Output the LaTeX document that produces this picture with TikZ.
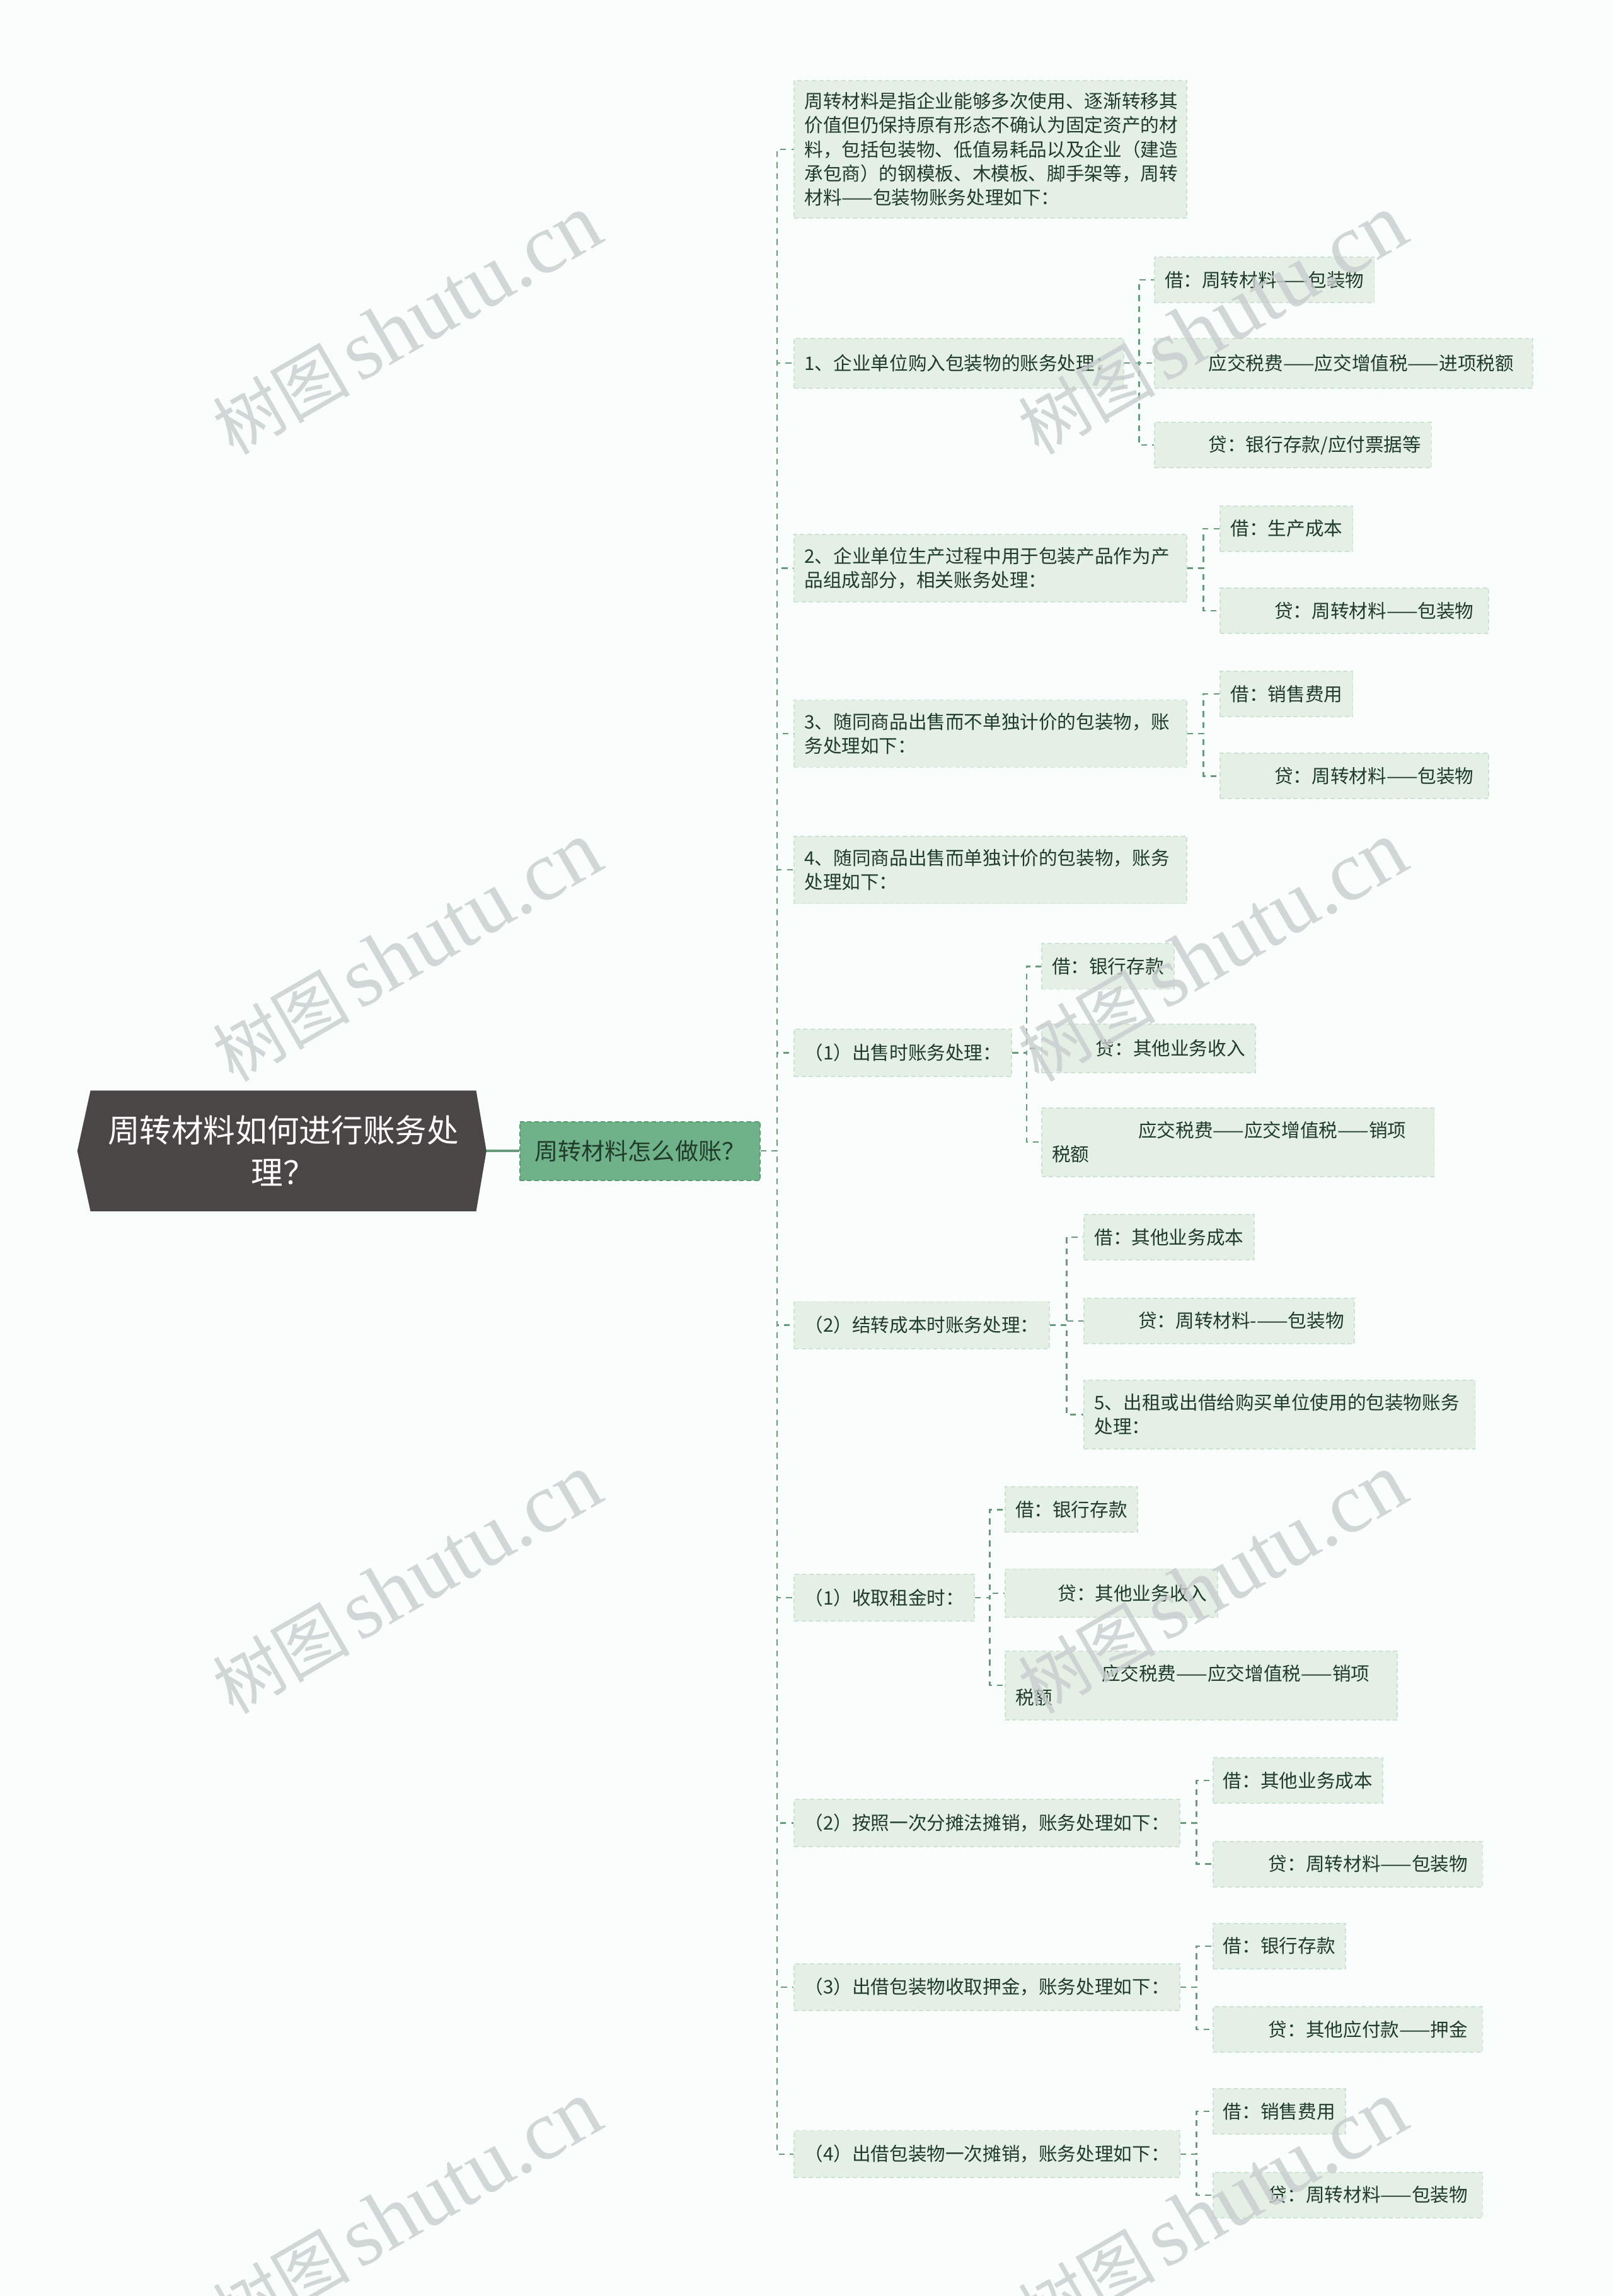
\documentclass[tikz,border=0pt]{standalone}
\usepackage{fontspec}
\setmainfont{Noto Sans CJK SC}
\newfontfamily\wmserif{Liberation Serif}
\usetikzlibrary{calc,backgrounds}
\definecolor{bgc}{RGB}{249,253,252}
\definecolor{boxfill}{RGB}{228,239,230}
\definecolor{boxline}{RGB}{206,225,211}
\definecolor{linec}{RGB}{106,154,124}
\definecolor{txt}{RGB}{33,59,43}
\definecolor{rootc}{RGB}{75,70,70}
\definecolor{mainc}{RGB}{111,178,138}
\definecolor{mainline}{RGB}{92,152,114}
\definecolor{wm}{RGB}{200,205,205}
\tikzset{
  leaf/.style={anchor=west, fill=boxfill, draw=boxline, dash pattern=on 3pt off 2pt,
    line width=0.8pt, inner xsep=7pt, inner ysep=0pt, minimum height=31pt, text=txt,
    font=\fontsize{12.75}{16.5}\selectfont, align=left},
  wide/.style={leaf, text width=#1},
  conn/.style={draw=linec, line width=1pt, dash pattern=on 4pt off 3.5pt},
  wmark/.style={rotate=30, text=wm, opacity=0.8, inner sep=0pt, font=\fontsize{47}{47}\selectfont}
}
\newcommand\joinnodes[2]{\draw[conn] (#1.east) -| ($(#1.east)!.5!(#2.west)$) |- (#2.west);}
\begin{document}
\begin{tikzpicture}[x=1pt,y=-1pt]
\useasboundingbox (0,0) rectangle (1102,1568);
% root and main
\node[font=\fontsize{21.8}{29}\selectfont, text=white, align=center, minimum width=263pt,
  minimum height=82pt, inner sep=0pt] (root) at (193.5,786) {周转材料如何进行账务处\\理？};
\node[fill=mainc, draw=mainline, dash pattern=on 3pt off 2pt, line width=0.8pt, minimum width=164pt,
  minimum height=40pt, inner sep=0pt, font=\fontsize{16}{18}\selectfont, text=txt] (main) at (437,786) {周转材料怎么做账？};
\begin{scope}[on background layer]
  \fill[bgc] (0,0) rectangle (1102,1568);
  \draw[linec, line width=1.5pt] (root.east) -- (main.west);
  \fill[rootc] (root.north west) -- (root.north east) -- ([xshift=7pt]root.east) -- (root.south east)
     -- (root.south west) -- ([xshift=-9pt]root.west) -- cycle;
\end{scope}

% level 2
\node[wide=254pt, minimum height=94pt] (intro) at (542,102) {周转材料是指企业能够多次使用、逐渐转移其\\价值但仍保持原有形态不确认为固定资产的材\\料，包括包装物、低值易耗品以及企业（建造\\承包商）的钢模板、木模板、脚手架等，周转\\材料——包装物账务处理如下：};
\node[leaf, minimum height=34pt] (n1) at (542,248) {1、企业单位购入包装物的账务处理：};
\node[wide=254pt, minimum height=46pt] (n2) at (542,388) {2、企业单位生产过程中用于包装产品作为产\\品组成部分，相关账务处理：};
\node[wide=254pt, minimum height=46pt] (n3) at (542,501) {3、随同商品出售而不单独计价的包装物，账\\务处理如下：};
\node[wide=254pt, minimum height=46pt] (n4) at (542,594) {4、随同商品出售而单独计价的包装物，账务\\处理如下：};
\node[leaf, minimum height=32pt] (n5) at (542,719) {（1）出售时账务处理：};
\node[leaf, minimum height=32pt] (n6) at (542,905) {（2）结转成本时账务处理：};
\node[leaf, minimum height=32pt] (n7) at (542,1091) {（1）收取租金时：};
\node[leaf, minimum height=32pt] (n8) at (542,1245) {（2）按照一次分摊法摊销，账务处理如下：};
\node[leaf, minimum height=32pt] (n9) at (542,1357) {（3）出借包装物收取押金，账务处理如下：};
\node[leaf, minimum height=32pt] (n10) at (542,1471) {（4）出借包装物一次摊销，账务处理如下：};

% leaves
\node[leaf] (n1a) at (788,191) {借：周转材料——包装物};
\node[leaf, minimum height=34pt] (n1b) at (788,248) {\hspace*{30pt}应交税费——应交增值税——进项税额\hspace*{6pt}};
\node[leaf] (n1c) at (788,304) {\hspace*{30pt}贷：银行存款/应付票据等};
\node[leaf] (n2a) at (833,361) {借：生产成本};
\node[leaf] (n2b) at (833,417) {\hspace*{30pt}贷：周转材料——包装物\hspace*{3pt}};
\node[leaf] (n3a) at (833,474) {借：销售费用};
\node[leaf] (n3b) at (833,530) {\hspace*{30pt}贷：周转材料——包装物\hspace*{3pt}};
\node[leaf] (n5a) at (711,660) {借：银行存款};
\node[leaf, minimum height=33pt] (n5b) at (711,716) {\hspace*{30pt}贷：其他业务收入};
\node[wide=254pt, minimum height=47pt] (n5c) at (711,780) {\hspace*{59pt}应交税费——应交增值税——销项\\税额};
\node[leaf] (n6a) at (740,845) {借：其他业务成本};
\node[leaf] (n6b) at (740,902) {\hspace*{30pt}贷：周转材料-——包装物};
\node[wide=253pt, minimum height=47pt] (n6c) at (740,966) {5、出租或出借给购买单位使用的包装物账务\\处理：};
\node[leaf] (n7a) at (686,1031) {借：银行存款};
\node[leaf, minimum height=33pt] (n7b) at (686,1088) {\hspace*{29pt}贷：其他业务收入};
\node[wide=254pt, minimum height=47pt] (n7c) at (686,1151) {\hspace*{59pt}应交税费——应交增值税——销项\\税额};
\node[leaf] (n8a) at (828,1216) {借：其他业务成本};
\node[leaf] (n8b) at (828,1273) {\hspace*{31pt}贷：周转材料——包装物\hspace*{3pt}};
\node[leaf] (n9a) at (828,1329) {借：银行存款};
\node[leaf] (n9b) at (828,1386) {\hspace*{31pt}贷：其他应付款——押金\hspace*{3pt}};
\node[leaf] (n10a) at (828,1442) {借：销售费用};
\node[leaf] (n10b) at (828,1499) {\hspace*{31pt}贷：周转材料——包装物\hspace*{3pt}};

% connectors
\foreach \c in {intro,n1,n2,n3,n4,n5,n6,n7,n8,n9,n10} {\joinnodes{main}{\c}}
\foreach \c in {n1a,n1b,n1c} {\joinnodes{n1}{\c}}
\foreach \c in {n2a,n2b} {\joinnodes{n2}{\c}}
\foreach \c in {n3a,n3b} {\joinnodes{n3}{\c}}
\foreach \c in {n5a,n5b,n5c} {\joinnodes{n5}{\c}}
\foreach \c in {n6a,n6b,n6c} {\joinnodes{n6}{\c}}
\foreach \c in {n7a,n7b,n7c} {\joinnodes{n7}{\c}}
\foreach \c in {n8a,n8b} {\joinnodes{n8}{\c}}
\foreach \c in {n9a,n9b} {\joinnodes{n9}{\c}}
\foreach \c in {n10a,n10b} {\joinnodes{n10}{\c}}

% watermarks
\foreach \x in {278,828} {
  \foreach \y in {222,650,1082,1510} {
    \node[wmark] (wm-\x-\y) at (\x,\y) {树图\hspace{6pt}{\wmserif\fontsize{58}{58}\selectfont shutu.cn}};
  }
}
\end{tikzpicture}
\end{document}
